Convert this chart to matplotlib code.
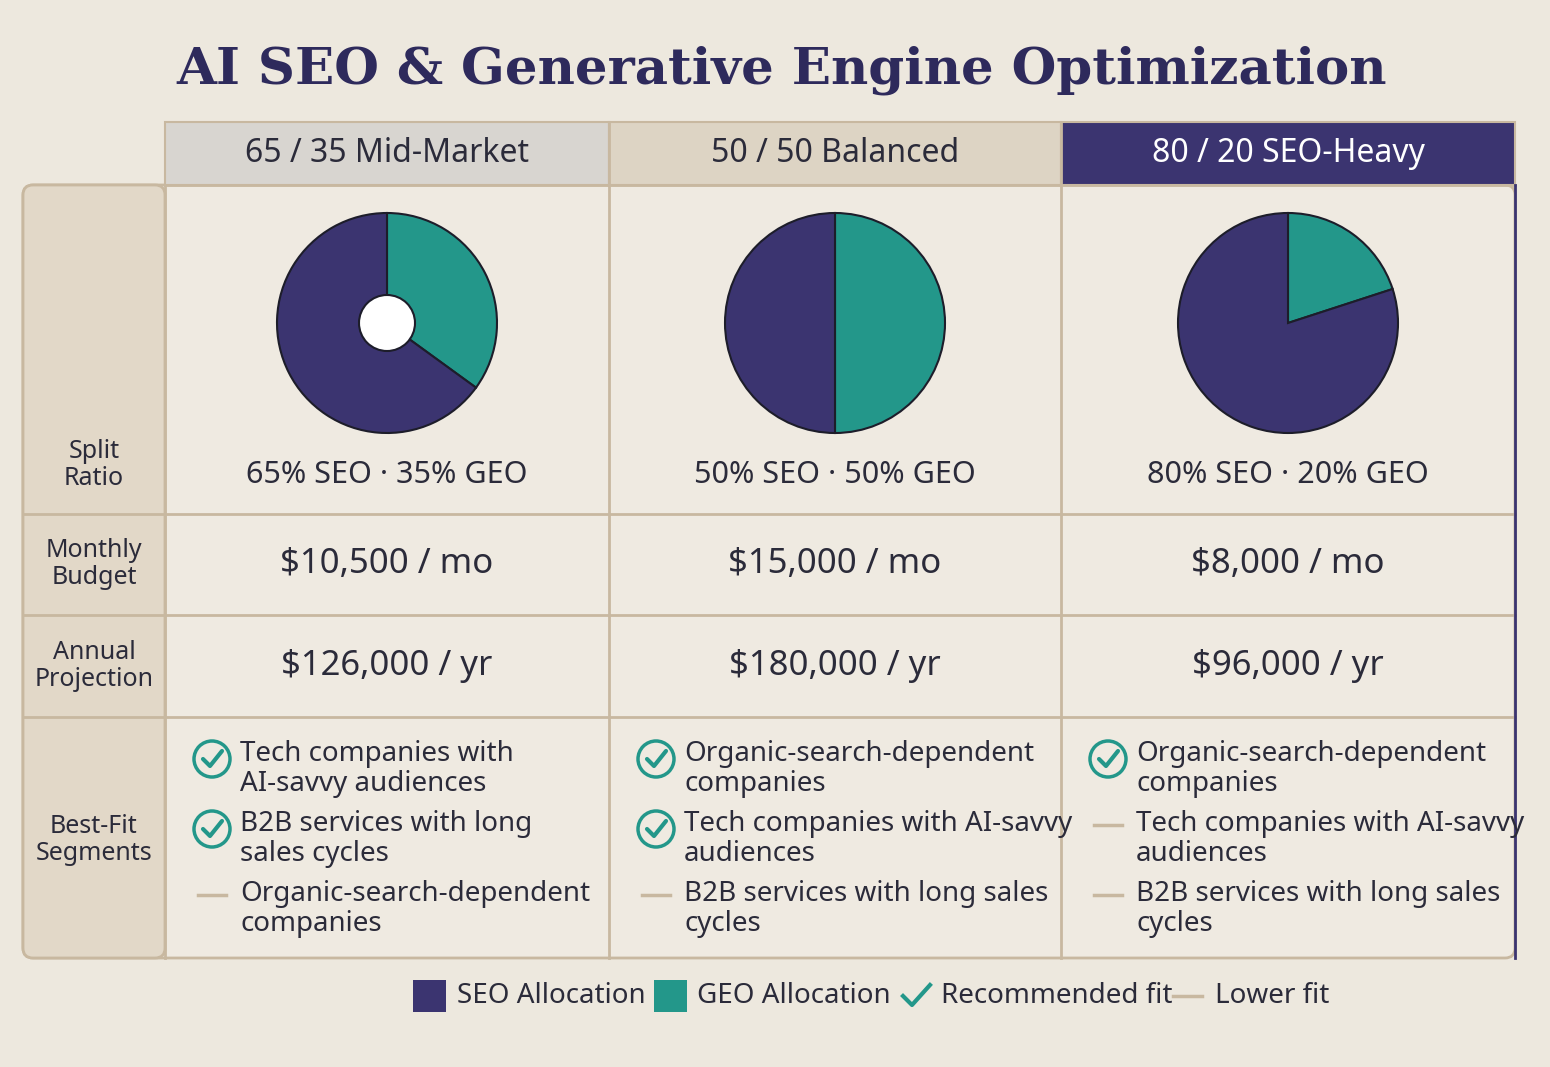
import matplotlib
matplotlib.use("Agg")
import matplotlib.pyplot as plt
from matplotlib.patches import Rectangle, Circle, FancyBboxPatch

title = "AI SEO & Generative Engine Optimization"
plans = ["65 / 35 Mid-Market", "50 / 50 Balanced", "80 / 20 SEO-Heavy"]
seo = [65, 50, 80]
geo = [35, 50, 20]
monthly = ["$10,500 / mo", "$15,000 / mo", "$8,000 / mo"]
annual = ["$126,000 / yr", "$180,000 / yr", "$96,000 / yr"]
row_labels = ["Split\nRatio", "Monthly\nBudget", "Annual\nProjection", "Best-Fit\nSegments"]
segments = [
    [("Tech companies with\nAI-savvy audiences", True), ("B2B services with long\nsales cycles", True), ("Organic-search-dependent\ncompanies", False)],
    [("Organic-search-dependent\ncompanies", True), ("Tech companies with AI-savvy\naudiences", True), ("B2B services with long sales\ncycles", False)],
    [("Organic-search-dependent\ncompanies", True), ("Tech companies with AI-savvy\naudiences", False), ("B2B services with long sales\ncycles", False)],
]
legend_items = ["SEO Allocation", "GEO Allocation", "Recommended fit", "Lower fit"]

BG = "#ede8de"; SEO_C = "#3b3470"; GEO_C = "#23978a"; LINE = "#c8b8a0"; TXT = "#2b2b3a"
HDR = ["#d8d5d0", "#ddd4c4", SEO_C]; ROWH = "#e2d8c8"
FONT = ["Noto Sans", "DejaVu Sans"]

W, H = 1550, 1067
fig = plt.figure(figsize=(15.5, 10.67), dpi=100, facecolor=BG)
ax = fig.add_axes([0, 0, 1, 1]); ax.set_xlim(0, W); ax.set_ylim(0, H); ax.set_aspect("equal"); ax.axis("off")
Y = lambda y: H - y

ax.text(782, Y(70), title, ha="center", va="center", fontsize=37, fontweight="bold",
        family=["DejaVu Serif"], color="#2e2a5c")

xs = [165, 609, 1061, 1515]
ys = [185, 514, 615, 717, 958]
# outer frame
ax.add_patch(FancyBboxPatch((23, Y(958)), 1515 - 23, 958 - 185, boxstyle="round,pad=0,rounding_size=10",
                            fc="#efeae1", ec=LINE, lw=2, zorder=0))
ax.add_patch(FancyBboxPatch((23, Y(958)), 165 - 23, 958 - 185, boxstyle="round,pad=0,rounding_size=10",
                            fc=ROWH, ec=LINE, lw=2, zorder=1))
# headers
for i in range(3):
    ax.add_patch(Rectangle((xs[i], Y(185)), xs[i + 1] - xs[i], 63, fc=HDR[i], ec=LINE, lw=1.5, zorder=2))
    ax.text((xs[i] + xs[i + 1]) / 2, Y(154), plans[i], ha="center", va="center", fontsize=23, fontweight="bold",
            family=FONT, color="white" if i == 2 else TXT, zorder=3)
ax.plot([1515, 1515], [Y(185), Y(958)], color=SEO_C, lw=2, zorder=3)
# grid
for y in ys[1:-1]:
    ax.plot([23, 1515], [Y(y), Y(y)], color=LINE, lw=2, zorder=2)
for x in xs[:-1]:
    ax.plot([x, x], [Y(122) if x > 165 else Y(185), Y(958)], color=LINE, lw=2, zorder=2)
ax.plot([165, 1515], [Y(185)] * 2, color=LINE, lw=2, zorder=2)
# row labels
row_y = [465, 564, 666, 840]
for lab, ry in zip(row_labels, row_y):
    ax.text(94, Y(ry), lab, ha="center", va="center", fontsize=18, family=FONT, color=TXT, linespacing=1.15, zorder=3)

for i in range(3):
    cx = (xs[i] + xs[i + 1]) / 2
    ax.pie([geo[i], seo[i]], colors=[GEO_C, SEO_C], startangle=90, counterclock=False,
           center=(cx, Y(323)), radius=110, frame=True,
           wedgeprops=dict(edgecolor="#1d1d2a", linewidth=1.5))
    if i == 0:
        ax.add_patch(Circle((cx, Y(323)), 28, fc="white", ec="#1d1d2a", lw=1.5, zorder=5))
    ax.text(cx, Y(475), f"{seo[i]}% SEO · {geo[i]}% GEO", ha="center", va="center", fontsize=22, family=FONT, color=TXT)
    ax.text(cx, Y(564), monthly[i], ha="center", va="center", fontsize=25, fontweight="bold", family=FONT, color=TXT)
    ax.text(cx, Y(666), annual[i], ha="center", va="center", fontsize=25, fontweight="bold", family=FONT, color=TXT)
    for j, (txt, ok) in enumerate(segments[i]):
        ty = 755 + j * 70
        ix = xs[i] + 47
        if ok:
            ax.add_patch(Circle((ix, Y(ty + 4)), 18, fc="none", ec=GEO_C, lw=2.5, zorder=4))
            ax.plot([ix - 9, ix - 2, ix + 10], [Y(ty + 4), Y(ty + 11), Y(ty - 4)], color=GEO_C, lw=3, zorder=4,
                    solid_capstyle="round")
        else:
            ax.plot([ix - 14, ix + 14], [Y(ty + 142 - 142)] * 2, color="#c8b8a0", lw=2.5)
        ax.text(xs[i] + 75, Y(ty - 15), txt, ha="left", va="top", fontsize=20, family=FONT, color=TXT, linespacing=1.1)
ax.set_xlim(0, W); ax.set_ylim(0, H); ax.set_aspect("equal")

# legend
ly = Y(996)
ax.add_patch(Rectangle((413, ly - 16), 33, 32, fc=SEO_C))
ax.text(457, ly, legend_items[0], va="center", fontsize=20, family=FONT, color=TXT)
ax.add_patch(Rectangle((654, ly - 16), 33, 32, fc=GEO_C))
ax.text(697, ly, legend_items[1], va="center", fontsize=20, family=FONT, color=TXT)
ax.plot([903, 912, 930], [ly, ly - 9, ly + 11], color=GEO_C, lw=3)
ax.text(941, ly, legend_items[2], va="center", fontsize=20, family=FONT, color=TXT)
ax.plot([1173, 1202], [ly, ly], color=LINE, lw=2.5)
ax.text(1215, ly, legend_items[3], va="center", fontsize=20, family=FONT, color=TXT)

fig.savefig("out.png", dpi=100, facecolor=BG)
